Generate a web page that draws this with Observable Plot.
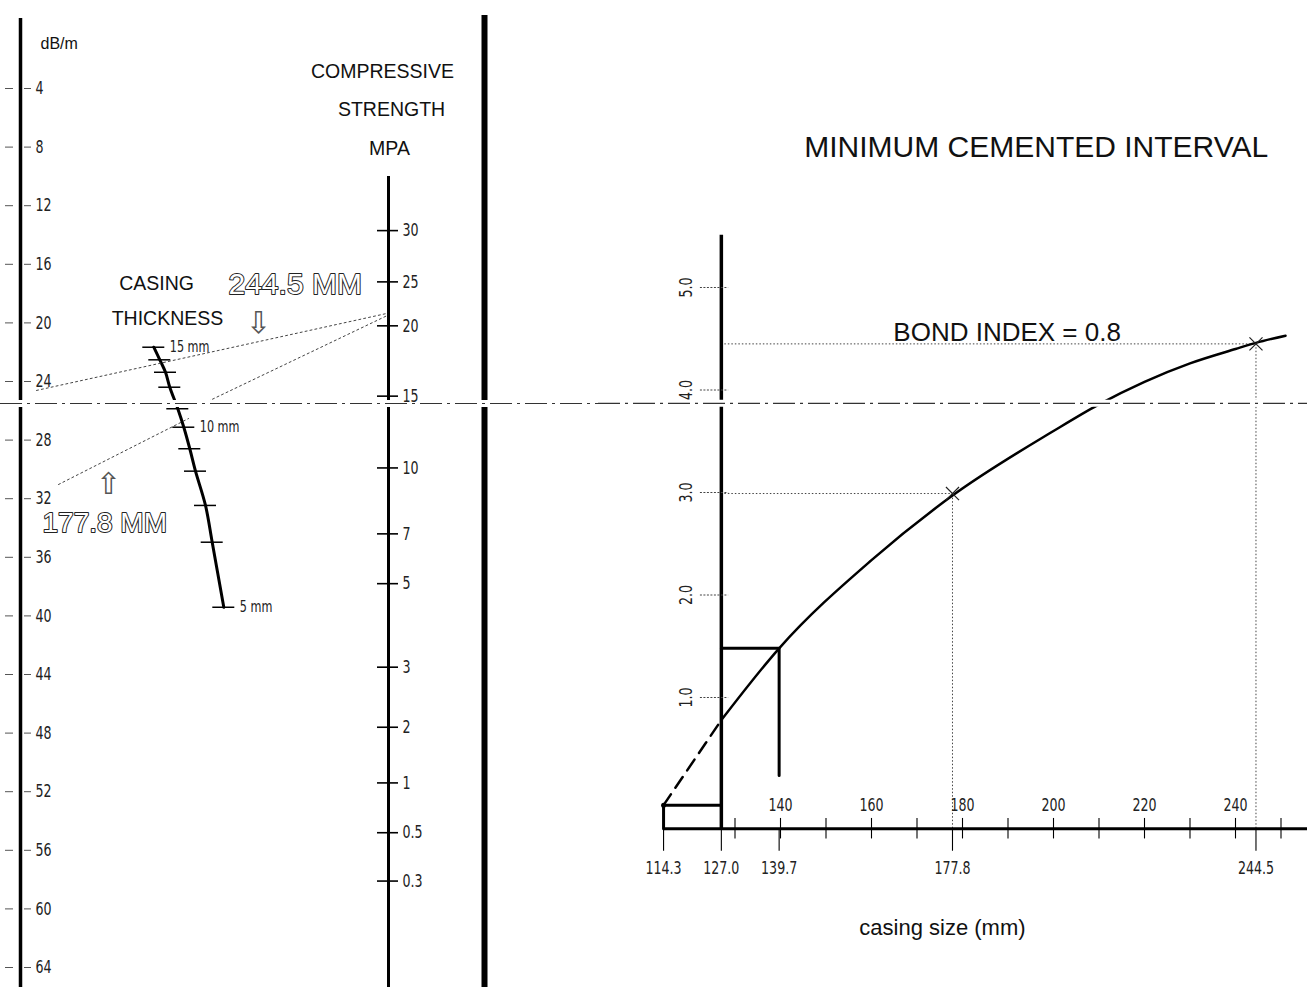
<!DOCTYPE html>
<html><head><meta charset="utf-8">
<script src="https://cdn.jsdelivr.net/npm/d3@7"></script>
<script src="https://cdn.jsdelivr.net/npm/@observablehq/plot@0.6"></script>
<style>
html,body{margin:0;padding:0;background:#fff;}
#chart{position:relative;width:1307px;height:987px;overflow:hidden;background:#fff;}
#chart svg{position:absolute;left:0;top:0;overflow:visible;}
</style></head><body><div id="chart"></div>
<script>
// ---------------- DATA ----------------
// left nomogram: attenuation scale (dB/m)
const attenTicks = [4, 8, 12, 16, 20, 24, 28, 32, 36, 40, 44, 48, 52, 56, 60, 64];
// compressive strength scale (MPa) and the attenuation level each graduation lines up with
const strengthTicks = [30, 25, 20, 15, 10, 7, 5, 3, 2, 1, 0.5, 0.3];
const strengthOnAtten = [13.7, 17.2, 20.2, 25.0, 29.9, 34.4, 37.8, 43.5, 47.6, 51.4, 54.8, 58.1];
// casing thickness scale (mm) and the attenuation level of each graduation
const thicknessTicks = [15, 14, 13, 12, 11, 10, 9, 8, 7, 6, 5];
const thicknessOnAtten = [21.66, 22.52, 23.37, 24.39, 25.86, 27.12, 28.59, 30.12, 32.46, 34.97, 39.41];
const thicknessLabelled = [15, 10, 5];
// cut-off line shared by both panels
const cutoffAtten = 25.5;
const cutoffInterval = 3.87;

// right chart: minimum cemented interval vs casing size
const casingSizes = [114.3, 127.0, 139.7, 177.8, 244.5];
const casingLabels = ["114.3", "127.0", "139.7", "177.8", "244.5"];
const sizeTicksLabelled = [140, 160, 180, 200, 220, 240];
const sizeTicksAll = [130, 140, 150, 160, 170, 180, 190, 200, 210, 220, 230, 240, 250];
const intervalTicks = [1, 2, 3, 4, 5];
const curveSize = [114.3, 127.0, 139.7, 160, 177.8, 200, 210, 220, 230, 240, 244.5, 251];
const curveInterval = [-0.05, 0.78, 1.48, 2.34, 2.97, 3.60, 3.86, 4.08, 4.26, 4.40, 4.46, 4.53];
const solvedSizes = [177.8, 244.5];
const solvedIntervals = [2.99, 4.45];
const bondIndex = 0.8;
const baseInterval = -0.28;   // level of the size axis

// ---------------- LAYOUT ----------------
const W = 1307, H = 987;
const NARROW = "'Liberation Sans Narrow','DejaVu Sans Condensed',sans-serif";
const SANS = "'Liberation Sans',Arial,Helvetica,sans-serif";
const col = {atten: 20, strength: 388, divider: 484};
const thicknessCol = [153.3, 159.3, 165, 169.3, 177.3, 183.3, 189.3, 195, 205, 211.7, 223.3];
const construction = [
  [[36, 24.61], [386, 19.36]],
  [[203, cutoffAtten], [387, 19.49]],
  [[58, 31.03], [188, 26.53]]
];
const headA = [
  {t: "COMPRESSIVE", x: 382, y: 2.84},
  {t: "STRENGTH", x: 391, y: 5.44},
  {t: "MPA", x: 389, y: 8.09},
  {t: "CASING", x: 156, y: 17.31},
  {t: "THICKNESS", x: 167, y: 19.72}
];
const outlined = [
  {t: "244.5 MM", x: 228, y: 17.4, s: 30},
  {t: "177.8 MM", x: 42, y: 33.65, s: 28}
];
const arrows = [
  {t: "\u21E9", x: 258, y: 20.0},
  {t: "\u21E7", x: 108, y: 31.0}
];

const idxS = d3.range(strengthTicks.length);
const idxT = d3.range(thicknessTicks.length);
const thickLab = idxT.filter(i => thicknessLabelled.includes(thicknessTicks[i]));

// ---------------- LEFT NOMOGRAM ----------------
const A = Plot.plot({
  width: W, height: H, margin: 0,
  x: {domain: [0, W], range: [0, W], axis: null},
  y: {domain: [0, 64], range: [29.4, 967], axis: null},
  style: {background: "white", overflow: "visible"},
  marks: [
    // attenuation axis
    Plot.ruleX([col.atten], {y1: -0.78, y2: 66, stroke: "#000", strokeWidth: 3.5}),
    Plot.ruleY(attenTicks, {y: d => d, x1: col.atten - 15, x2: col.atten - 7, stroke: "#555", strokeWidth: 1}),
    Plot.ruleY(attenTicks, {y: d => d, x1: col.atten + 4, x2: col.atten + 11, stroke: "#555", strokeWidth: 1}),
    // strength axis
    Plot.ruleX([col.strength], {y1: 10.0, y2: 66, stroke: "#000", strokeWidth: 3}),
    Plot.ruleY(idxS, {y: i => strengthOnAtten[i], x1: col.strength - 11, x2: col.strength + 10, stroke: "#000", strokeWidth: 1.6}),
    // divider
    Plot.ruleX([col.divider], {y1: -0.98, y2: 66, stroke: "#000", strokeWidth: 6}),
    // thickness scale
    Plot.line(idxT, {x: i => thicknessCol[i], y: i => thicknessOnAtten[i], curve: "catmull-rom", stroke: "#000", strokeWidth: 3}),
    Plot.ruleY(idxT, {y: i => thicknessOnAtten[i], x1: i => thicknessCol[i] - 11, x2: i => thicknessCol[i] + 11, stroke: "#000", strokeWidth: 1.5}),
    // construction lines
    ...construction.map(seg => Plot.line(seg, {x: d => d[0], y: d => d[1], stroke: "#444", strokeWidth: 1, strokeDasharray: "2,3"})),
    // cut-off band and dash-dot line
    Plot.ruleY([cutoffAtten], {stroke: "white", strokeWidth: 7}),
    Plot.ruleY([cutoffAtten], {stroke: "#333", strokeWidth: 1.2, strokeDasharray: "22,5,3,5"}),
    // texts
    Plot.text(attenTicks, {x: col.atten + 15, y: d => d, text: d => String(d), textAnchor: "start", fontFamily: NARROW, fontSize: 18, fill: "#222"}),
    Plot.text(idxS, {x: col.strength + 14, y: i => strengthOnAtten[i], text: i => String(strengthTicks[i]), textAnchor: "start", fontFamily: NARROW, fontSize: 18, fill: "#222"}),
    Plot.text(thickLab, {x: i => thicknessCol[i] + 16, y: i => thicknessOnAtten[i], text: i => thicknessTicks[i] + " mm", textAnchor: "start", fontFamily: NARROW, fontSize: 16, fill: "#222"}),
    Plot.text(["dB/m"], {x: col.atten + 20, y: 0.93, text: d => d, textAnchor: "start", fontFamily: SANS, fontSize: 16, fill: "#111"}),
    Plot.text(headA, {x: "x", y: "y", text: "t", textAnchor: "middle", fontFamily: SANS, fontSize: 19.5, fill: "#111"}),
    ...outlined.map(o => Plot.text([o], {x: "x", y: "y", text: "t", textAnchor: "start", fontFamily: SANS, fontSize: o.s, fill: "white", stroke: "#222", strokeWidth: 2})),
    Plot.text(arrows, {x: "x", y: "y", text: "t", textAnchor: "middle", fontFamily: "'DejaVu Sans',sans-serif", fontSize: 30, fill: "#555"})
  ]
});

// ---------------- RIGHT CHART ----------------
const curveIdx = d3.range(curveSize.length);
const dashedIdx = curveIdx.filter(i => curveSize[i] <= 127.0);
const solidIdx = curveIdx.filter(i => curveSize[i] >= 127.0);
const solved = solvedSizes.map((s, i) => ({size: s, interval: solvedIntervals[i]}));
const yAxisSize = casingSizes[1];
const timesSym = d3.symbolTimes || d3.symbolX || "cross";

const B = Plot.plot({
  width: W, height: H, margin: 0,
  x: {domain: [140, 240], range: [780, 1235], axis: null},
  y: {domain: [1, 5], range: [697, 287], axis: null},
  style: {background: "transparent", overflow: "visible"},
  marks: [
    // construction dotted lines
    Plot.ruleY(solved, {y: "interval", x1: yAxisSize, x2: "size", stroke: "#444", strokeWidth: 1, strokeDasharray: "1.5,2"}),
    Plot.ruleX(solved, {x: "size", y1: baseInterval, y2: "interval", stroke: "#444", strokeWidth: 1, strokeDasharray: "1.5,2"}),
    // axes
    Plot.ruleX([yAxisSize], {y1: baseInterval, y2: 5.51, stroke: "#000", strokeWidth: 3.5}),
    Plot.ruleY([baseInterval], {x1: casingSizes[0], x2: 262, stroke: "#000", strokeWidth: 3}),
    Plot.ruleX(sizeTicksAll, {x: d => d, y1: baseInterval - 0.1, y2: baseInterval + 0.1, stroke: "#000", strokeWidth: 1.1}),
    Plot.ruleX(casingSizes, {x: d => d, y1: baseInterval, y2: baseInterval - 0.22, stroke: "#000", strokeWidth: 1.1}),
    Plot.ruleY(intervalTicks, {y: d => d, x1: yAxisSize - 4.6, x2: yAxisSize + 1.6, stroke: "#444", strokeWidth: 1, strokeDasharray: "2,1.5"}),
    // read-off steps for the two small casings
    Plot.line([[casingSizes[0], baseInterval], [casingSizes[0], curveInterval[0]], [casingSizes[1], curveInterval[0]]],
      {x: d => d[0], y: d => d[1], stroke: "#000", strokeWidth: 3}),
    Plot.line([[casingSizes[1], curveInterval[2]], [casingSizes[2], curveInterval[2]], [casingSizes[2], 0.24]],
      {x: d => d[0], y: d => d[1], stroke: "#000", strokeWidth: 3}),
    Plot.dot([0], {x: () => curveSize[0], y: () => curveInterval[0], r: 2.5, fill: "#000"}),
    // curve
    Plot.line(dashedIdx, {x: i => curveSize[i], y: i => curveInterval[i], stroke: "#000", strokeWidth: 2.5, strokeDasharray: "13,8"}),
    Plot.line(solidIdx, {x: i => curveSize[i], y: i => curveInterval[i], curve: "monotone-x", stroke: "#000", strokeWidth: 2.5}),
    Plot.dot(solved, {x: "size", y: "interval", symbol: timesSym, r: 6, stroke: "#222", strokeWidth: 1.2}),
    // cut-off band and dash-dot line (right part)
    Plot.ruleY([cutoffInterval], {x1: 100, x2: 262, stroke: "white", strokeWidth: 7}),
    Plot.ruleY([cutoffInterval], {x1: 100, x2: 262, stroke: "#333", strokeWidth: 1.2, strokeDasharray: "22,5,3,5"}),
    // texts
    Plot.text(sizeTicksLabelled, {x: d => d, y: -0.05, text: d => String(d), fontFamily: NARROW, fontSize: 18, fill: "#222"}),
    Plot.text(casingSizes, {x: d => d, y: -0.67, text: (d, i) => casingLabels[i], fontFamily: NARROW, fontSize: 18, fill: "#222"}),
    Plot.text(intervalTicks, {x: 119.3, y: d => d, text: d => d3.format(".1f")(d), rotate: -90, fontFamily: NARROW, fontSize: 18, fill: "#222"}),
    Plot.text(["MINIMUM CEMENTED INTERVAL"], {x: 196.2, y: 6.37, text: d => d, fontFamily: SANS, fontSize: 30, fill: "#111"}),
    Plot.text(["BOND INDEX = " + bondIndex], {x: 164.8, y: 4.56, text: d => d, textAnchor: "start", fontFamily: SANS, fontSize: 26, fill: "#111"}),
    Plot.text(["casing size (mm)"], {x: 175.6, y: -1.25, text: d => d, fontFamily: SANS, fontSize: 22, fill: "#111"})
  ]
});

function narrow(svg, k) {
  svg.querySelectorAll("text").forEach(t => {
    const g = t.closest("g");
    const ff = (t.getAttribute("font-family") || "") + (g ? (g.getAttribute("font-family") || "") : "");
    if (!ff.includes("Narrow")) return;
    const tr = t.getAttribute("transform");
    if (tr) t.setAttribute("transform", tr + ` scale(${k},1)`);
    else {
      const x = +t.getAttribute("x") || 0, y = +t.getAttribute("y") || 0;
      t.removeAttribute("x"); t.removeAttribute("y");
      t.setAttribute("transform", `translate(${x},${y}) scale(${k},1)`);
    }
  });
}
narrow(A, 0.78);
narrow(B, 0.78);
const root = document.getElementById("chart");
root.appendChild(A);
root.appendChild(B);
</script></body></html>
